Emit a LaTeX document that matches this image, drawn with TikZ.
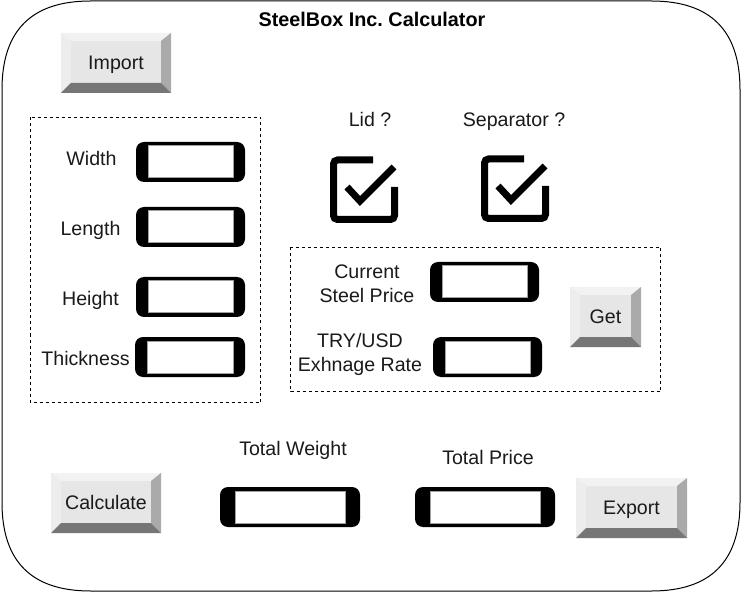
\documentclass[tikz,border=0pt]{standalone}
\usepackage{fontspec}
\setmainfont{Liberation Sans}
\frenchspacing
\usetikzlibrary{calc}
\definecolor{btnface}{HTML}{E6E6E6}
\definecolor{btntop}{HTML}{F2F2F2}
\definecolor{btnleft}{HTML}{EDEDED}
\definecolor{btnright}{HTML}{AAAAAA}
\definecolor{btnbottom}{HTML}{767676}
\definecolor{fieldgray}{HTML}{A0A0A0}
\definecolor{txt}{HTML}{1A1A1A}
\tikzset{
  lbl/.style={inner sep=0pt, text=txt, font=\fontsize{19.6}{24}\selectfont, align=center},
  lbl1/.style={lbl, text height=1.6em, text depth=0.21em},
  ttl/.style={inner sep=0pt, text=black, font=\fontsize{19.8}{24}\selectfont\bfseries, text height=1.6em, text depth=0.21em},
  frame/.style={draw=black, line width=1pt},
  dashbox/.style={draw=black, line width=1pt, dash pattern=on 3pt off 3pt},
  tfield/.style={inner sep=0pt, fill=black, rounded corners=8pt,
    path picture={\fill[white, draw=fieldgray, line width=1pt, sharp corners]
      ([xshift=#1,yshift=-4pt]path picture bounding box.north west) rectangle
      ([xshift=-#1,yshift=4pt]path picture bounding box.south east);}},
  tfield/.default=12pt,
  btn/.style={inner sep=0pt, fill=btnface, text=txt, font=\fontsize{19.6}{24}\selectfont,
    text height=1.6em, text depth=0.21em,
    path picture={
      \fill[btntop] (path picture bounding box.north west) -- (path picture bounding box.north east)
        -- ([xshift=-10pt,yshift=-8pt]path picture bounding box.north east)
        -- ([xshift=10pt,yshift=-8pt]path picture bounding box.north west) -- cycle;
      \fill[btnleft] (path picture bounding box.north west) -- ([xshift=10pt,yshift=-8pt]path picture bounding box.north west)
        -- ([xshift=10pt,yshift=10pt]path picture bounding box.south west)
        -- (path picture bounding box.south west) -- cycle;
      \fill[btnright] (path picture bounding box.north east) -- ([xshift=-10pt,yshift=-8pt]path picture bounding box.north east)
        -- ([xshift=-10pt,yshift=10pt]path picture bounding box.south east)
        -- (path picture bounding box.south east) -- cycle;
      \fill[btnbottom] (path picture bounding box.south west) -- ([xshift=10pt,yshift=10pt]path picture bounding box.south west)
        -- ([xshift=-10pt,yshift=10pt]path picture bounding box.south east)
        -- (path picture bounding box.south east) -- cycle;
    }},
  chk/.style={inner sep=0pt, minimum width=74pt, minimum height=74pt,
    path picture={
      \begin{scope}[shift={(path picture bounding box.center)}, x=1pt, y=-1pt]
        \draw[line width=7pt, rounded corners=4pt] (9,-30) -- (-30.5,-30) -- (-30.5,29.5) -- (30.5,29.5) -- (30.5,-3);
        \draw[line width=7pt] (-17,-3) -- (-4,11) -- (30,-23);
      \end{scope}
    }}
}
\begin{document}
\begin{tikzpicture}[x=1pt, y=-1pt]
\useasboundingbox (0,0) rectangle (741,593);
\fill[white] (0,0) rectangle (741,593);
% outer frame
\draw[frame] (90.5,1) -- (651.5,1) .. controls (710.5,1) and (740,30.5) .. (740,89.5)
  -- (740,502.5) .. controls (740,561.5) and (710.5,591) .. (651.5,591)
  -- (90.5,591) .. controls (31.5,591) and (2,561.5) .. (2,502.5)
  -- (2,89.5) .. controls (2,30.5) and (31.5,1) .. (90.5,1) -- cycle;
\node[ttl] (title) at (372,19.5) {SteelBox Inc. Calculator};

% import
\node[btn, minimum width=110pt, minimum height=60pt] (import) at (116,63) {Import};

% dimensions box
\draw[dashbox] (30.5,117.5) rectangle (260.5,402.5);
\node[lbl1] (lw) at (91.5,159) {Width};
\node[lbl1] (ll) at (90.5,229) {Length};
\node[lbl1] (lh) at (90.5,299) {Height};
\node[lbl1] (lt) at (85.5,359) {Thickness};
\node[tfield, minimum width=109pt, minimum height=40pt] (fw) at (190.5,162) {};
\node[tfield, minimum width=109pt, minimum height=40pt] (fl) at (190.5,227) {};
\node[tfield, minimum width=109pt, minimum height=40pt] (fh) at (190.5,297) {};
\node[tfield, minimum width=110pt, minimum height=40pt] (ft) at (190,357) {};

% options
\node[lbl1] (llid) at (370,120) {Lid ?};
\node[lbl1] (lsep) at (514,120) {Separator ?};
\node[chk] (clid) at (364,190) {};
\node[chk] (csep) at (515,189) {};

% prices box
\draw[dashbox] (290.5,247.5) rectangle (660.5,391.5);
\node[lbl] (lsteel) at (367,284) {Current\\Steel Price};
\node[lbl] (lrate) at (360,354.5) {TRY/USD\\Exhnage Rate};
\node[tfield, minimum width=109pt, minimum height=40pt] (fsteel) at (484.5,282) {};
\node[tfield, minimum width=109pt, minimum height=40pt] (frate) at (487.5,357) {};
\node[btn, minimum width=71pt, minimum height=60pt] (get) at (605.5,317) {Get};

% bottom row
\node[btn, minimum width=110pt, minimum height=60pt] (calc) at (106,503) {Calculate};
\node[lbl1] (ltw) at (293,449) {Total Weight};
\node[lbl1] (ltp) at (488,457.5) {Total Price};
\node[tfield=15pt, minimum width=140pt, minimum height=40pt] (ftw) at (290,507) {};
\node[tfield=15pt, minimum width=140pt, minimum height=40pt] (ftp) at (485,507) {};
\node[btn, minimum width=111pt, minimum height=60pt] (export) at (631.5,508) {Export};
\end{tikzpicture}
\end{document}
